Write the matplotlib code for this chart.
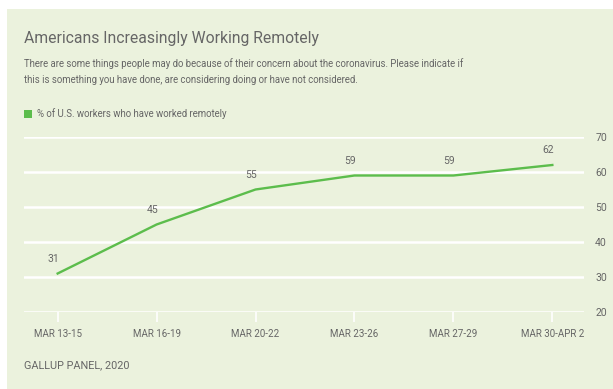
import matplotlib
matplotlib.use("Agg")
import matplotlib.pyplot as plt
from matplotlib.patches import Rectangle

periods = ["MAR 13-15", "MAR 16-19", "MAR 20-22", "MAR 23-26", "MAR 27-29", "MAR 30-APR 2"]
remote_pct = [31, 45, 55, 59, 59, 62]
y_ticks = [20, 30, 40, 50, 60, 70]

bg = "#ebf2dd"
green = "#5cbd4c"
grey = "#666666"

plt.rcParams['font.family'] = ['Roboto', 'DejaVu Sans']

fig = plt.figure(figsize=(6.13, 3.89), dpi=100)
fig.patch.set_facecolor("white")
# green panel behind everything
fig.patches.append(Rectangle((7 / 613, 0), 1, 1 - 9 / 389, transform=fig.transFigure,
                             facecolor=bg, edgecolor="none", zorder=-5))

ax = fig.add_axes([24 / 613, 1 - 312 / 389, 560 / 613, 175 / 389])
ax.set_facecolor("none")
ax.set_zorder(2)
x = list(range(len(periods)))
ax.plot(x, remote_pct, color=green, linewidth=1.7, zorder=3)
for xi, v in zip(x, remote_pct):
    ax.annotate(str(v), (xi, v), xytext=(-3, 7), textcoords="offset points",
                ha="center", va="bottom", fontsize=7.5, color=grey)

ax.set_xlim(-0.34, 5.32)
ax.set_ylim(20, 70)
ax.set_yticks(y_ticks)
ax.yaxis.tick_right()
ax.tick_params(axis="y", length=0, pad=8, labelsize=7.5, labelcolor=grey)
ax.set_xticks(x)
ax.set_xticklabels(periods)
ax.tick_params(axis="x", length=7, width=1.2, color="white", pad=5.5, labelsize=7, labelcolor=grey)
ax.grid(axis="y", color="white", linewidth=1.8, zorder=1)
ax.set_axisbelow(True)
for s in ax.spines.values():
    s.set_visible(False)

fig.text(24 / 613, 1 - 38 / 389, "Americans Increasingly Working Remotely",
         fontsize=11.3, color=grey, va="center")
fig.text(24 / 613, 1 - 64 / 389,
         "There are some things people may do because of their concern about the coronavirus. Please indicate if",
         fontsize=6.9, color=grey, va="center")
fig.text(24 / 613, 1 - 80 / 389,
         "this is something you have done, are considering doing or have not considered.",
         fontsize=6.9, color=grey, va="center")
fig.patches.append(Rectangle((24 / 613, 1 - 118 / 389), 8 / 613, 8 / 389,
                             transform=fig.transFigure, facecolor=green, edgecolor="none"))
fig.text(37 / 613, 1 - 114 / 389, "% of U.S. workers who have worked remotely",
         fontsize=6.9, color=grey, va="center")
fig.text(24 / 613, 1 - 365 / 389, "GALLUP PANEL, 2020",
         fontsize=7.8, color=grey, va="center")

fig.savefig("out.png", dpi=100, facecolor=fig.get_facecolor())
